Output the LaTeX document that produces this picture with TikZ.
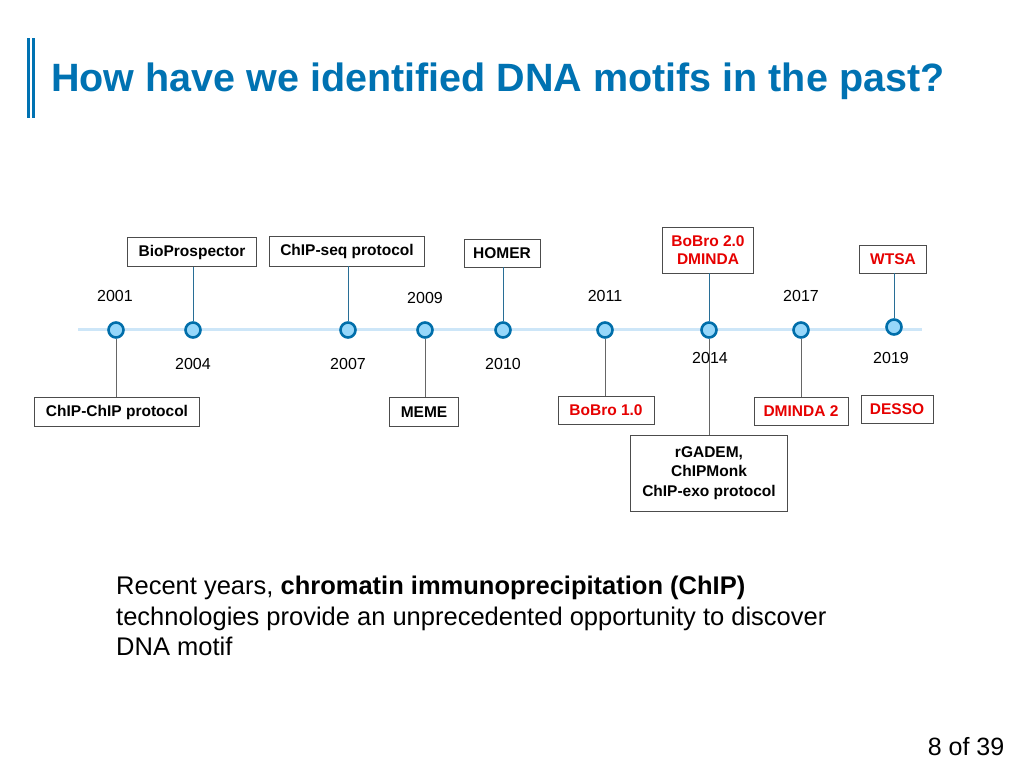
\documentclass[tikz,border=0pt]{standalone}
\usepackage{fontspec}
\setmainfont{Liberation Sans}
\definecolor{tblue}{RGB}{0,114,178}
\definecolor{lred}{RGB}{230,0,0}
\definecolor{dring}{RGB}{0,110,170}
\definecolor{dfill}{RGB}{150,215,250}
\definecolor{lline}{RGB}{205,230,248}
\definecolor{cblue}{RGB}{40,110,150}
\begin{document}
\begin{tikzpicture}[x=1pt,y=-1pt,
  box/.style={draw=black!70,line width=0.6pt,font=\bfseries\fontsize{15.5}{18}\selectfont,inner sep=0pt,align=center},
  rbox/.style={box,text=lred},
  dot/.style={circle,draw=dring,line width=2.6pt,fill=dfill,minimum size=15pt,inner sep=0pt},
  yr/.style={font=\fontsize{16}{19}\selectfont},
  conn/.style={draw=cblue,line width=0.6pt},
  connk/.style={draw=black!60,line width=0.6pt}]
\useasboundingbox (0,0) rectangle (1024,768);
\fill[tblue] (27,38) rectangle (30,118);
\fill[tblue] (32,38) rectangle (35,118);
\node[anchor=west,text=tblue,font=\bfseries\fontsize{39.5}{46}\selectfont,inner sep=0pt] (title) at (51,81) {How have we identified DNA motifs in the past?};
\draw[line width=3pt,lline] (78,329) coordinate (la) -- (922,329) coordinate (lb);
\foreach \n/\x/\y in {a/116/330,b/193/330,c/348/330,d/425/330,e/503/330,f/605/330,g/709/330,h/801/330,i/894/327}
  \node[dot] (p\n) at (\x,\y) {};
\node[box,minimum width=129pt,minimum height=29pt] (bp) at (192,252) {BioProspector};
\node[box,minimum width=155pt,minimum height=30pt] (cs) at (347,251) {ChIP-seq protocol};
\node[box,minimum width=76pt,minimum height=28pt] (ho) at (502,253) {HOMER};
\node[rbox,minimum width=91pt,minimum height=46pt] (b2) at (708,250) {BoBro 2.0\\DMINDA};
\node[rbox,minimum width=67pt,minimum height=28pt] (wt) at (893,259) {WTSA};
\node[box,minimum width=165pt,minimum height=29pt] (cc) at (117,412) {ChIP-ChIP protocol};
\node[box,minimum width=69pt,minimum height=29pt] (me) at (424,412) {MEME};
\node[rbox,minimum width=96pt,minimum height=28pt] (b1) at (606,410) {BoBro 1.0};
\node[rbox,minimum width=94pt,minimum height=28pt] (d2) at (801,411) {DMINDA 2};
\node[rbox,minimum width=72pt,minimum height=28pt] (de) at (897,409) {DESSO};
\node[box,minimum width=157pt,minimum height=76pt,font=\bfseries\fontsize{15.5}{19.5}\selectfont] (rg) at (709,473) {rGADEM,\\ChIPMonk\\ChIP-exo protocol};
\draw[connk] (pa) -- (pa |- cc.north);
\draw[conn] (pb) -- (pb |- bp.south);
\draw[conn] (pc) -- (pc |- cs.south);
\draw[connk] (pd) -- (pd |- me.north);
\draw[conn] (pe) -- (pe |- ho.south);
\draw[connk] (pf) -- (pf |- b1.north);
\draw[conn] (pg) -- (pg |- b2.south);
\draw[connk] (pg) -- (pg |- rg.north);
\draw[connk] (ph) -- (ph |- d2.north);
\draw[conn] (pi) -- (pi |- wt.south);
\node[yr] (y1) at (115,296) {2001};
\node[yr] (y2) at (193,364) {2004};
\node[yr] (y3) at (348,364) {2007};
\node[yr] (y4) at (425,298) {2009};
\node[yr] (y5) at (503,364) {2010};
\node[yr] (y6) at (605,296) {2011};
\node[yr] (y7) at (710,358) {2014};
\node[yr] (y8) at (801,296) {2017};
\node[yr] (y9) at (891,358) {2019};
\node[anchor=north west,align=left,font=\fontsize{25.5}{30.5}\selectfont,inner sep=0pt] (body) at (116,576) {Recent years, \textbf{chromatin immunoprecipitation (ChIP)}\\technologies provide an unprecedented opportunity to discover\\DNA motif};
\node[font=\fontsize{25}{29}\selectfont] (pgn) at (966,747) {8 of 39};
\end{tikzpicture}
\end{document}
